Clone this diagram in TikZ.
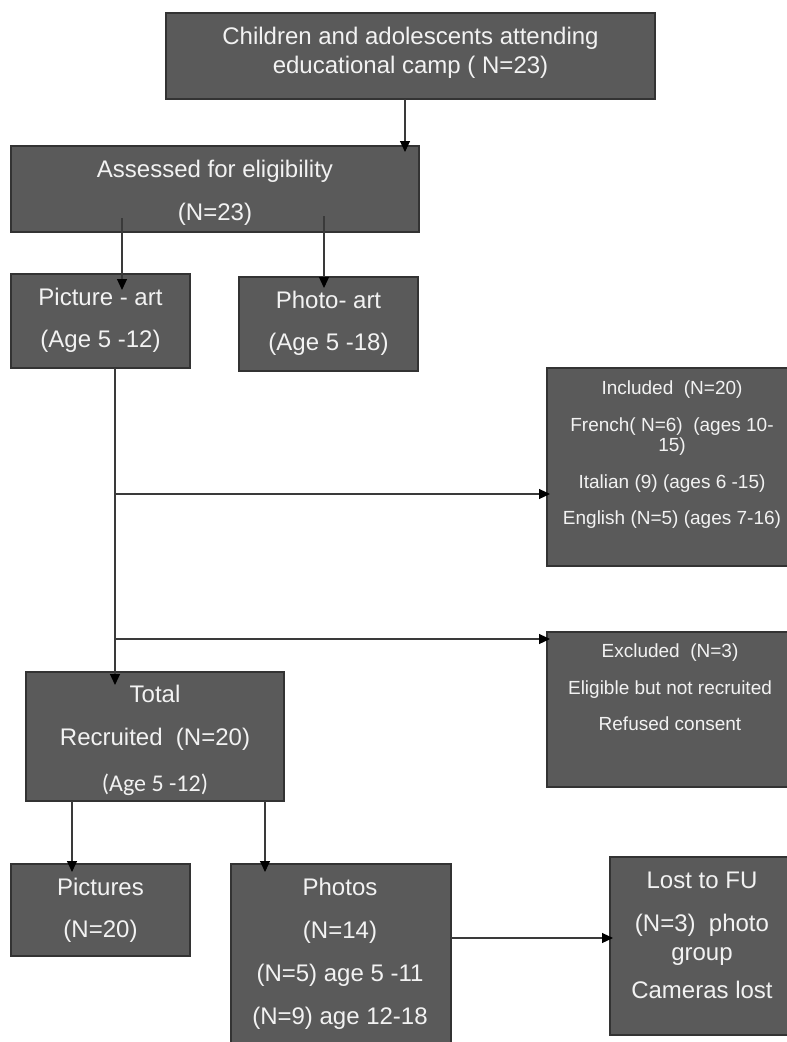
\documentclass[tikz,border=0pt]{standalone}
\usepackage{fontspec}
\setmainfont{Liberation Sans}
\newfontfamily\calib{Carlito}
\usetikzlibrary{arrows.meta}
\definecolor{boxfill}{HTML}{5A5A5A}
\definecolor{boxline}{HTML}{333333}
\definecolor{boxtext}{HTML}{F2F2F2}
\definecolor{linecol}{HTML}{3A3A3A}
\tikzset{
  box/.style={draw=boxline, fill=boxfill, line width=1.3pt, inner sep=0pt, outer sep=0pt, rectangle},
  big/.style={anchor=base, text=boxtext, inner sep=0pt, font=\fontsize{24}{28}\selectfont},
  small/.style={anchor=base, text=boxtext, inner sep=0pt, font=\fontsize{19}{22}\selectfont},
  arr/.style={draw=linecol, line width=1.1pt, -{Triangle[length=11pt,width=10pt,color=black]}},
  ln/.style={draw=linecol, line width=1.1pt}
}
\begin{document}
\begin{tikzpicture}[x=1pt,y=-1pt]
\useasboundingbox (0,0) rectangle (787,1042);
\fill[white] (0,0) rectangle (787,1042);

% boxes
\node[box, minimum width=489pt, minimum height=86pt] (top) at (410.5,56) {};
\node[box, minimum width=408pt, minimum height=86pt] (assess) at (215,189) {};
\node[box, minimum width=179pt, minimum height=94pt] (picart) at (100.5,321) {};
\node[box, minimum width=179pt, minimum height=94pt] (photoart) at (328.5,324) {};
\node[box, minimum width=250pt, minimum height=198pt] (incl) at (672,467) {};
\node[box, minimum width=250pt, minimum height=155pt] (excl) at (672,709.5) {};
\node[box, minimum width=258pt, minimum height=129pt] (total) at (155,736.5) {};
\node[box, minimum width=179pt, minimum height=92pt] (pics) at (100.5,910) {};
\node[box, minimum width=220pt, minimum height=188pt] (photos) at (341,958) {};
\node[box, minimum width=187pt, minimum height=178pt] (lost) at (703.5,946) {};

% texts
\node[big] (t1a) at (410.5,44) {Children and adolescents attending};
\node[big] (t1b) at (410.5,73) {educational camp ( N=23)};
\node[big] (t2a) at (215,177) {Assessed for eligibility};
\node[big] (t2b) at (215,220) {(N=23)};
\node[big] (t3a) at (100.5,305) {Picture - art};
\node[big] (t3b) at (100.5,347) {(Age 5 -12)};
\node[big] (t4a) at (328.5,308) {Photo- art};
\node[big] (t4b) at (328.5,350) {(Age 5 -18)};
\node[small] (t5a) at (672,394) {Included\ \ (N=20)};
\node[small] (t5b) at (672,431) {French( N=6)\ \ (ages 10-};
\node[small] (t5c) at (672,451) {15)};
\node[small] (t5d) at (672,488) {Italian (9) (ages 6 -15)};
\node[small] (t5e) at (672,524) {English (N=5) (ages 7-16)};
\node[small] (t6a) at (670,657) {Excluded\ \ (N=3)};
\node[small] (t6b) at (670,694) {Eligible but not recruited};
\node[small] (t6c) at (670,730) {Refused consent};
\node[big] (t7a) at (155,702) {Total};
\node[big] (t7b) at (155,745) {Recruited\ \ (N=20)};
\node[big, font=\calib\fontsize{24}{28}\selectfont] (t7c) at (155,791) {(Age 5 -12)};
\node[big] (t8a) at (100.5,895) {Pictures};
\node[big] (t8b) at (100.5,937) {(N=20)};
\node[big] (t9a) at (340,895) {Photos};
\node[big] (t9b) at (340,938) {(N=14)};
\node[big] (t9c) at (340,981) {(N=5) age 5 -11};
\node[big] (t9d) at (340,1024) {(N=9) age 12-18};
\node[big] (t10a) at (702,888) {Lost to FU};
\node[big] (t10b) at (702,931) {(N=3)\ \ photo};
\node[big] (t10c) at (702,960) {group};
\node[big] (t10d) at (702,998) {Cameras lost};

% connector end points
\coordinate (e1) at (405,152);
\coordinate (s2) at (122,218);
\coordinate (e2) at (122,290);
\coordinate (s3) at (324,216);
\coordinate (e3) at (324,288);
\coordinate (s4) at (115,368);
\coordinate (e4) at (115,685);
\coordinate (j1) at (115,494);
\coordinate (j2) at (115,639);
\coordinate (s7) at (72,801);
\coordinate (e7) at (72,872);
\coordinate (s8) at (265,801);
\coordinate (e8) at (265,872);

% connectors
\draw[arr] (top.south -| e1) -- (e1);
\draw[arr] (s2) -- (e2);
\draw[arr] (s3) -- (e3);
\draw[ln] (picart.south -| s4) -- (j1);
\draw[arr] (j1) -- (j2) -- (e4);
\draw[arr] (j1) -- ([xshift=3pt]incl.west |- j1);
\draw[arr] (j2) -- ([xshift=3pt]excl.west |- j2);
\draw[arr] (total.south -| s7) -- (e7);
\draw[arr] (total.south -| s8) -- (e8);
\draw[arr] (photos.east |- 0,938) -- ([xshift=3pt]lost.west |- 0,938);
\end{tikzpicture}
\end{document}
